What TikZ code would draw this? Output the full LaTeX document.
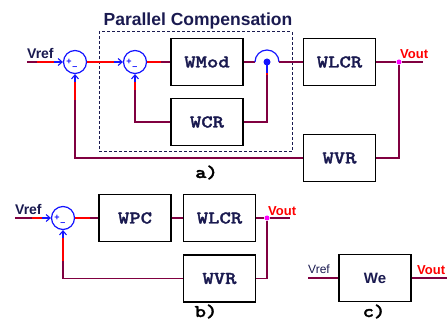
\documentclass[tikz,border=0pt]{standalone}
\usepackage{fontspec}
\setmainfont{Liberation Sans}
\newfontfamily\blockfont[FakeStretch=1.2, FakeBold=1.6]{lmmonolt10-bold.otf}
\usepackage{tikz}
\usetikzlibrary{arrows.meta, positioning, calc}
\definecolor{wiremaroon}{RGB}{128,0,64}
\definecolor{labelnavy}{RGB}{26,26,80}
\definecolor{sumblue}{RGB}{20,20,255}
\definecolor{hotred}{RGB}{255,0,0}
\definecolor{tapmagenta}{RGB}{255,0,255}

\begin{document}
\begin{tikzpicture}[
  x=1pt, y=-1pt,
  block/.style={draw, line width=1.3pt, fill=white, minimum width=72pt,
                minimum height=47pt, inner sep=0pt, text=labelnavy,
                font=\blockfont\fontsize{18}{18}\selectfont},
  sumpt/.style={draw=sumblue, circle, line width=1.2pt, minimum size=23pt,
                inner sep=0pt},
  wire/.style={wiremaroon, line width=1.2pt},
  hot/.style={hotred, line width=1.2pt},
  inarr/.style={sumblue, line width=1.1pt,
                -{Straight Barb[length=4pt, width=7pt]}},
  sign/.style={text=sumblue, inner sep=0pt,
               font=\bfseries\fontsize{9}{9}\selectfont},
  insig/.style={text=labelnavy, inner sep=0pt, anchor=base west,
                font=\bfseries\fontsize{14}{14}\selectfont},
  outsig/.style={text=hotred, inner sep=0pt, anchor=base west,
                 font=\bfseries\fontsize{13}{13}\selectfont},
  tap/.style={circle, fill=tapmagenta, minimum size=5pt, inner sep=0pt},
  tag/.style={anchor=base, inner sep=0pt,
              font=\blockfont\fontsize{18}{18}\selectfont}
]
\useasboundingbox (0,0) rectangle (447,320);

% a) Parallel compensation
\node[draw=labelnavy, dashed, dash pattern=on 3pt off 2pt, line width=1pt,
      minimum width=193pt, minimum height=120pt] (PC) at (195.5,92) {};
\node[anchor=base, inner sep=0pt, text=labelnavy,
      font=\bfseries\fontsize{17.5}{17.5}\selectfont] (PCtitle) at (198,26)
  {Parallel Compensation};

\node[sumpt] (S1) at (75,62) {};
\node[sumpt] (S2) at (135,62) {};
\node[block] (WMod) at (207,62) {WMod};
\node[block] (WCR) at (207,122) {WCR};
\node[block] (WLCRa) at (339.5,62) {WLCR};
\node[block] (WVRa) at (339.5,158) {WVR};
\coordinate (J) at (267,62);
\coordinate (INa) at (27,62);
\coordinate (OUTa) at (423,62);

\draw[wire] (INa) -- ($(S1.west)+(-26,0)$);
\draw[hot] ($(S1.west)+(-26,0)$) -- ($(S1.west)+(-9,0)$);
\draw[inarr] ($(S1.west)+(-9,0)$) -- (S1.west);
\draw[hot] (S1.east) -- ($(S2.west)+(-9,0)$);
\draw[inarr] ($(S2.west)+(-9,0)$) -- (S2.west);
\draw[hot] (S2.east) -- ($(S2.east)+(14,0)$);
\draw[wire] ($(S2.east)+(14,0)$) -- (WMod.west);
\draw[wire] (WMod.east) -- ($(J)+(-12,0)$);
\draw[sumblue, line width=1.2pt] ($(J)+(-12,0)$)
  arc[start angle=180, end angle=360, radius=12];
\draw[wire] ($(J)+(12,0)$) -- (WLCRa.west);

% inner loop
\draw[wire] (WCR.east) -| ($(J)+(0,13)$);
\draw[hot] ($(J)+(0,13)$) -- ($(J)+(0,11)$);
\draw[sumblue, line width=1.2pt] ($(J)+(0,11)$) -- (J);
\node[circle, fill=sumblue, minimum size=7pt, inner sep=0pt] (Jdot) at (J) {};
\draw[wire] (WCR.west) -| ($(S2.south)+(0,16)$);
\draw[hot] ($(S2.south)+(0,16)$) -- ($(S2.south)+(0,8)$);
\draw[inarr] ($(S2.south)+(0,8)$) -- (S2.south);

% outer loop
\node[tap] (Ta) at (399,62) {};
\draw[wire] (WLCRa.east) -- (Ta) -- (OUTa);
\draw[wire] (Ta) |- (WVRa.east);
\draw[wire] (WVRa.west) -| ($(S1.south)+(0,26)$);
\draw[hot] ($(S1.south)+(0,26)$) -- ($(S1.south)+(0,8)$);
\draw[inarr] ($(S1.south)+(0,8)$) -- (S1.south);

\node[insig] (Vrefa) at ($(INa)+(0,-3)$) {Vref};
\node[outsig] (Vouta) at ($(Ta)+(1,-3)$) {Vout};
\node[tag] (taga) at (206.5,178) {a)};

% b) Equivalent loop
\node[sumpt] (S3) at (63,218) {};
\node[block] (WPC) at (135,218) {WPC};
\node[block] (WLCRb) at (219.5,218) {WLCR};
\node[block] (WVRb) at (219.5,278.5) {WVR};
\node[tap] (Tb) at (267,218) {};
\coordinate (INb) at (15,218);
\coordinate (OUTb) at (290,218);

\draw[wire] (INb) -- ($(S3.west)+(-19,0)$);
\draw[hot] ($(S3.west)+(-19,0)$) -- ($(S3.west)+(-9,0)$);
\draw[inarr] ($(S3.west)+(-9,0)$) -- (S3.west);
\draw[hot] (S3.east) -- ($(S3.east)+(15,0)$);
\draw[wire] ($(S3.east)+(15,0)$) -- (WPC.west);
\draw[wire] (WPC) -- (WLCRb);
\draw[wire] (WLCRb.east) -- (Tb) -- (OUTb);
\draw[wire] (Tb) |- (WVRb.east);
\draw[wire] (WVRb.west) -| ($(S3.south)+(0,31)$);
\draw[hot] ($(S3.south)+(0,31)$) -- ($(S3.south)+(0,8)$);
\draw[inarr] ($(S3.south)+(0,8)$) -- (S3.south);

\node[insig] (Vrefb) at ($(INb)+(0,-3)$) {Vref};
\node[outsig] (Voutb) at ($(Tb)+(1,-2)$) {Vout};
\node[tag] (tagb) at (206,317) {b)};

% signs
\foreach \s in {S1,S2,S3}{
  \node[sign] at ($(\s)+(-6,0)$) {+};
  \node[sign] at ($(\s)+(0,6)$) {\textendash};
}

% c) Closed loop
\node[block, font=\bfseries\fontsize{15}{15}\selectfont] (We) at (375,278) {We};
\coordinate (INc) at (308,278);
\coordinate (OUTc) at (447,278);
\draw[wire] (INc) -- (We);
\draw[wire] (We) -- (OUTc);
\node[insig, font=\fontsize{12}{12}\selectfont] (Vrefc) at ($(INc)+(0,-4)$) {Vref};
\node[outsig] (Voutc) at (417,275) {Vout};
\node[tag] (tagc) at (374,317) {c)};

\end{tikzpicture}
\end{document}
